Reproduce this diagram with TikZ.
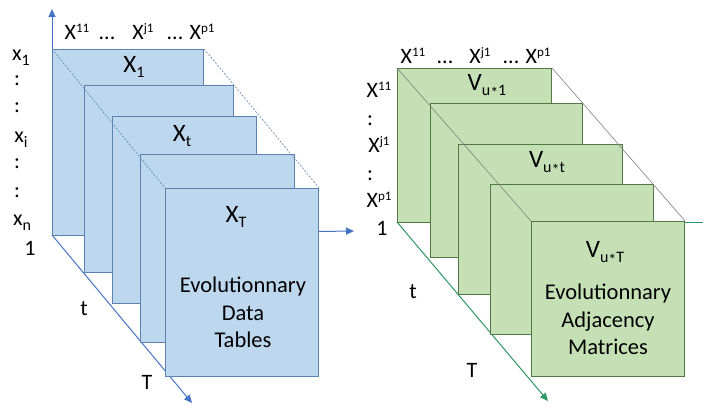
\documentclass[tikz,border=0pt]{standalone}
\usepackage{fontspec}
\setmainfont{Carlito}
\usepackage{xcolor}
\usetikzlibrary{arrows.meta,positioning}
\definecolor{tblfill}{RGB}{189,215,238}
\definecolor{tbledge}{RGB}{91,130,176}
\definecolor{blueaxis}{RGB}{68,114,196}
\definecolor{matfill}{RGB}{197,224,180}
\definecolor{matedge}{RGB}{84,120,66}
\definecolor{greenaxis}{RGB}{46,150,100}
\newcommand{\supx}[1]{\raisebox{6.5pt}{\fontsize{13}{13}\selectfont #1}}
\newcommand{\subx}[1]{\raisebox{-5pt}{\fontsize{16}{16}\selectfont #1}}
\newcommand{\ustar}{\raisebox{-3pt}{*}}

\begin{document}
\begin{tikzpicture}[x=1pt,y=-1pt,
  tbl/.style={draw=tbledge,fill=tblfill,line width=1.1pt,anchor=north west,inner sep=0pt},
  mat/.style={draw=matedge,fill=matfill,line width=1.1pt,anchor=north west,inner sep=0pt},
  lbl/.style={font=\fontsize{22}{26}\selectfont,inner sep=0pt,anchor=base},
  ttl/.style={font=\fontsize{25}{29}\selectfont,inner sep=0pt,anchor=base},
  body/.style={font=\fontsize{22.5}{27.5}\selectfont,align=center,inner sep=0pt,anchor=north},
  barr/.style={-{Triangle[length=8pt,width=7pt]},blueaxis,line width=1pt},
  garr/.style={-{Triangle[length=8pt,width=7pt]},greenaxis,line width=1pt},
  guide/.style={tbledge,line width=0.6pt,dash pattern=on 2pt off 1.5pt}]
  \useasboundingbox (0,0) rectangle (703,405);

  % left: data tables
  \coordinate (o1) at (52,235);
  \coordinate (tup) at (52,9);
  \coordinate (tright) at (354,231);
  \coordinate (tdown) at (192,403);
  \draw[barr] (o1) -- (tup);
  \draw[barr] (o1) -- (tright);
  \draw[barr] (o1) -- (tdown);
  \node[tbl,minimum width=151pt,minimum height=186pt] (t1) at (52,49) {};
  \node[tbl,minimum width=149pt,minimum height=187pt] (t2) at (84,85) {};
  \node[tbl,minimum width=144pt,minimum height=187pt] (t3) at (112,116) {};
  \node[tbl,minimum width=154pt,minimum height=188pt] (t4) at (140,154) {};
  \node[tbl,minimum width=153pt,minimum height=188pt] (t5) at (165,188) {};
  \draw[guide] (t1.north west) -- (t5.north west);
  \draw[guide] (t1.north east) -- (t5.north east);
  \node[ttl] (x1) at (134,72) {X\subx{1}};
  \node[ttl] (xt) at (182,141) {X\subx{t}};
  \node[ttl] (xT) at (236,222) {X\subx{T}};
  \node[body] (tblname) at (243,277) {Evolutionnary\\Data\\Tables};
  % column and row labels
  \node[lbl] (c11) at (77,39) {X\supx{11}};
  \node[lbl] (cd1) at (107,39) {...};
  \node[lbl] (cj1) at (143,39) {X\supx{j1}};
  \node[lbl] (cd2) at (175,39) {...};
  \node[lbl] (cp1) at (202,39) {X\supx{p1}};
  \node[lbl] (r1) at (21,60) {x\subx{1}};
  \node[lbl] (rd1) at (17,85) {:};
  \node[lbl] (rd2) at (17,112) {:};
  \node[lbl] (ri) at (21,142) {x\subx{i}};
  \node[lbl] (rd3) at (17,168) {:};
  \node[lbl] (rd4) at (17,197) {:};
  \node[lbl] (rn) at (22,225) {x\subx{n}};
  \node[lbl] (one1) at (30,255) {1};
  \node[lbl] (tt1) at (84,315) {t};
  \node[lbl] (tT1) at (147,389) {T};

  % right: adjacency matrices
  \coordinate (o2) at (397,222);
  \coordinate (vright) at (703,222);
  \coordinate (vdown) at (548,401);
  \draw[greenaxis,line width=1pt] (o2) -- (vright);
  \draw[garr] (o2) -- (vdown);
  \node[mat,minimum width=154pt,minimum height=154pt] (v1) at (397,68) {};
  \node[mat,minimum width=152pt,minimum height=154pt] (v2) at (430,103) {};
  \node[mat,minimum width=164pt,minimum height=150pt] (v3) at (458,144) {};
  \node[mat,minimum width=163pt,minimum height=150pt] (v4) at (490,184) {};
  \node[mat,minimum width=153pt,minimum height=155pt] (v5) at (531,221) {};
  \draw[gray,line width=0.6pt] (v1.north west) -- (v5.north west);
  \draw[gray,line width=0.6pt] (v1.north east) -- (v5.north east);
  \node[ttl] (vu1) at (487,90) {V\subx{u\ustar1}};
  \node[ttl] (vut) at (547,167) {V\subx{u\ustar t}};
  \node[ttl] (vuT) at (605,257) {V\subx{u\ustar T}};
  \node[body] (matname) at (608,284) {Evolutionnary\\Adjacency\\Matrices};
  % column and row labels
  \node[lbl] (m11) at (413,63) {X\supx{11}};
  \node[lbl] (md1) at (445,63) {...};
  \node[lbl] (mj1) at (480,63) {X\supx{j1}};
  \node[lbl] (md2) at (511,63) {...};
  \node[lbl] (mp1) at (538,63) {X\supx{p1}};
  \node[lbl] (n11) at (379,97) {X\supx{11}};
  \node[lbl] (nd1) at (370,125) {:};
  \node[lbl] (nj1) at (379,152) {X\supx{j1}};
  \node[lbl] (nd2) at (370,180) {:};
  \node[lbl] (np1) at (379,207) {X\supx{p1}};
  \node[lbl] (one2) at (382,235) {1};
  \node[lbl] (tt2) at (413,298) {t};
  \node[lbl] (tT2) at (472,377) {T};
\end{tikzpicture}
\end{document}
